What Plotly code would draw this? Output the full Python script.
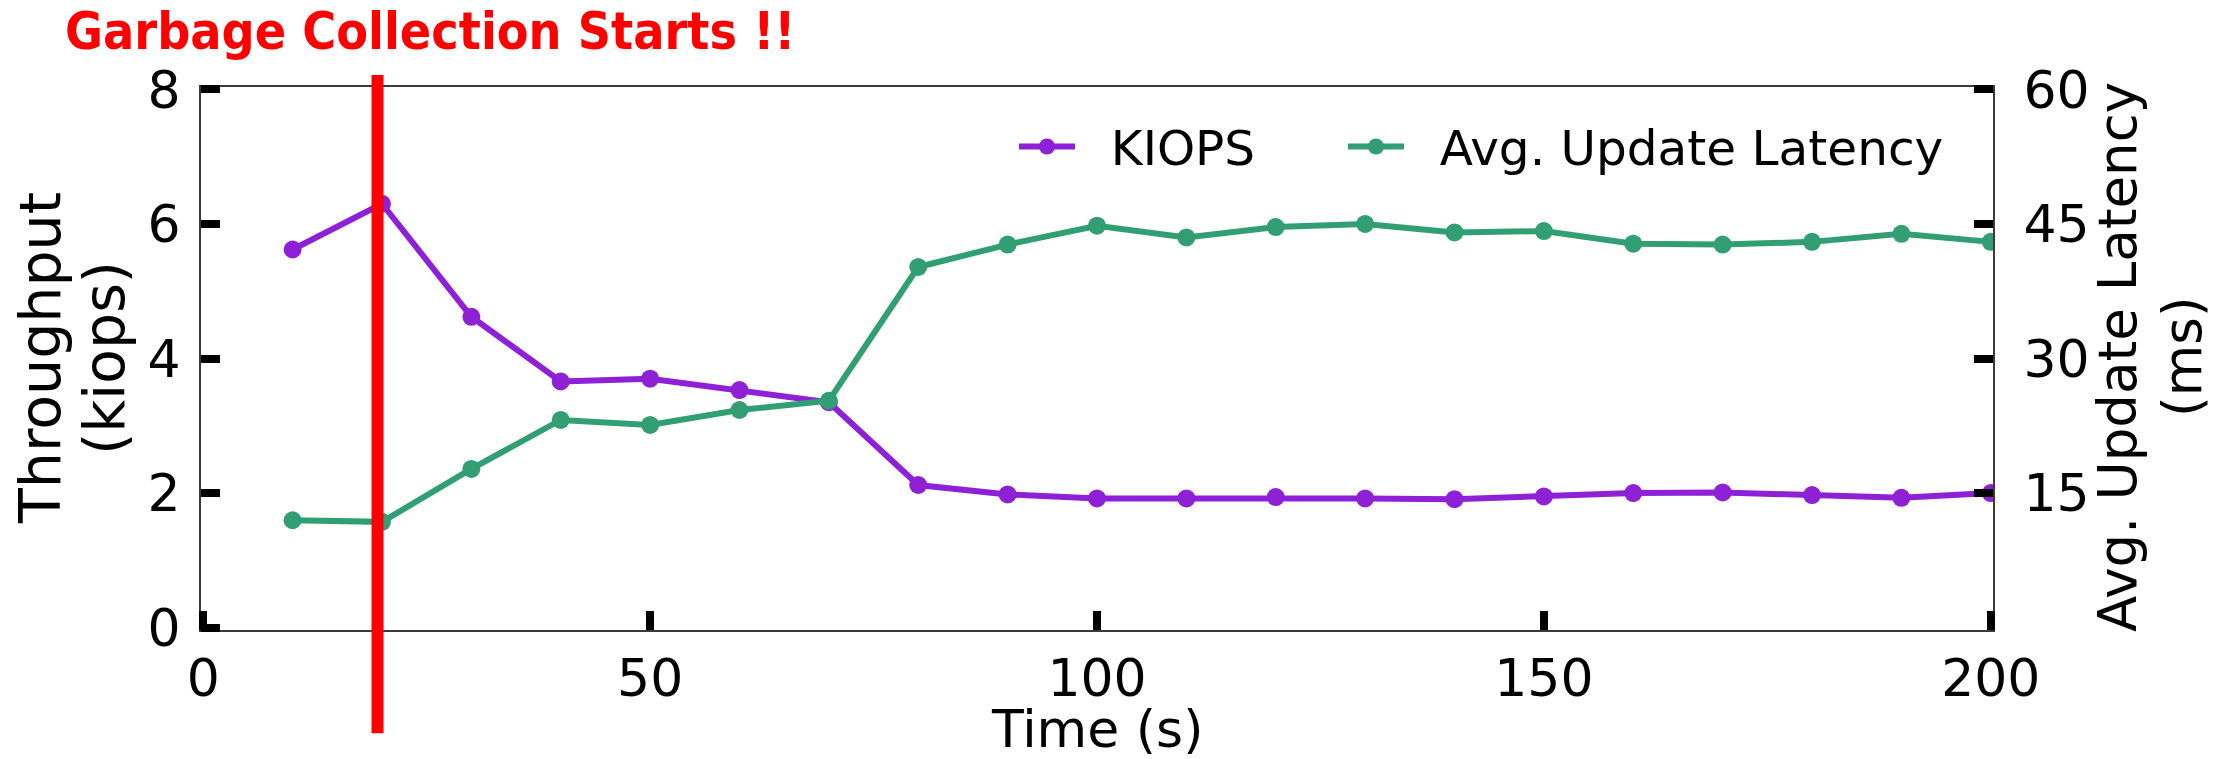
import plotly.graph_objects as go

# Sampling times (s) and the two measured series
time_s = [10, 20, 30, 40, 50, 60, 70, 80, 90, 100,
          110, 120, 130, 140, 150, 160, 170, 180, 190, 200]
kiops = [5.62, 6.30, 4.62, 3.66, 3.70, 3.53, 3.35, 2.12, 1.98, 1.92,
         1.92, 1.94, 1.92, 1.91, 1.95, 2.00, 2.01, 1.97, 1.93, 2.00]
latency_ms = [11.97, 11.79, 17.69, 23.15, 22.6, 24.26, 25.29, 40.2, 42.7, 44.8,
              43.5, 44.65, 45.0, 44.05, 44.2, 42.8, 42.7, 43.0, 43.9, 43.0]

# Moment garbage collection kicks in (s)
gc_start_s = 19.5
gc_label = "Garbage Collection Starts !!"

x_ticks = [0, 50, 100, 150, 200]
y_left_ticks = [0, 2, 4, 6, 8]
y_right_ticks = [15, 30, 45, 60]

x_title = "Time (s)"
y_left_title = ["Throughput", "(kiops)"]
y_right_title = ["Avg. Update Latency", "(ms)"]

PURPLE = "#8E20D6"
GREEN = "#329E73"
AXIS_LINE = "#3a3a3a"
FONT = "DejaVu Sans"
NBSP = "\u00a0"

W, H = 2231, 759
ML, MR, MT, MB = 201, W - 1993, 87, H - 630
PLOT_W, PLOT_H = W - ML - MR, H - MT - MB


def px_x(px):
    """Horizontal pixel position -> paper fraction."""
    return (px - ML) / PLOT_W


def px_y(py):
    """Vertical pixel position (from top) -> paper fraction."""
    return (H - MB - py) / PLOT_H


# Tiny padding so the inside ticks at the axis ends stay visible
XPAD = 0.25
YPAD = 0.035
Y2PAD = YPAD * 60 / 8

fig = go.Figure()
fig.add_trace(go.Scatter(
    x=time_s, y=kiops, name=NBSP * 2 + "KIOPS", mode="lines+markers",
    line=dict(color=PURPLE, width=6),
    marker=dict(color=PURPLE, size=18),
    legendwidth=258,
))
fig.add_trace(go.Scatter(
    x=time_s, y=latency_ms, name=NBSP * 2 + "Avg. Update Latency", mode="lines+markers",
    yaxis="y2",
    line=dict(color=GREEN, width=6),
    marker=dict(color=GREEN, size=18),
))

# Vertical marker for the start of garbage collection
fig.add_shape(
    type="line", xref="x", yref="paper",
    x0=gc_start_s, x1=gc_start_s, y0=-0.19, y1=1.022,
    line=dict(color="#ff0000", width=12),
)
fig.add_annotation(
    text="<b>" + gc_label + "</b>", xref="paper", yref="paper",
    x=px_x(430), y=px_y(31),
    xanchor="center", yanchor="middle", showarrow=False,
    font=dict(family="Comic Sans MS, Liberation Sans Narrow, DejaVu Sans Condensed, Lato",
              size=51.5, color="#ff0000"),
)

# Axis titles, one line per annotation
title_kw = dict(xref="paper", yref="paper", xanchor="center", yanchor="middle",
                showarrow=False)
fig.add_annotation(text=x_title, x=px_x(1097), y=px_y(728.5),
                   font=dict(family=FONT, size=52, color="black"), **title_kw)
for text, cx in zip(y_left_title, [40, 104]):
    fig.add_annotation(text=text, x=px_x(cx), y=px_y(358), textangle=-90,
                       font=dict(family=FONT, size=57, color="black"), **title_kw)
for text, cx in zip(y_right_title, [2117, 2182]):
    fig.add_annotation(text=text, x=px_x(cx), y=px_y(357), textangle=-90,
                       font=dict(family=FONT, size=53, color="black"), **title_kw)

tick_font = dict(family=FONT, size=52, color="black")

common_axis = dict(
    ticks="inside", ticklen=19, tickwidth=8, tickcolor="black",
    showline=True, linecolor=AXIS_LINE, linewidth=2,
    showgrid=False, zeroline=False, tickfont=tick_font, automargin=False,
)

fig.update_layout(
    width=W, height=H,
    margin=dict(l=ML, r=MR, t=MT, b=MB, pad=0, autoexpand=False),
    paper_bgcolor="white", plot_bgcolor="rgba(0,0,0,0)",
    showlegend=True,
    legend=dict(
        orientation="h", x=px_x(1014), y=px_y(147),
        xanchor="left", yanchor="middle",
        font=dict(family=FONT, size=48.5, color="black"),
        bgcolor="rgba(0,0,0,0)", itemwidth=56,
    ),
    xaxis=dict(
        range=[-XPAD, 200 + XPAD], tickvals=x_ticks, mirror=True,
        ticklabelstandoff=2,
        **common_axis,
    ),
    yaxis=dict(
        range=[-YPAD, 8 + YPAD], tickvals=y_left_ticks, anchor="x", layer="above traces",
        ticklabelstandoff=8,
        **common_axis,
    ),
    yaxis2=dict(
        range=[-Y2PAD, 60 + Y2PAD], tickvals=y_right_ticks, anchor="x",
        overlaying="y", side="right", ticklabelstandoff=18,
        **common_axis,
    ),
)

fig.write_html("out.html")
